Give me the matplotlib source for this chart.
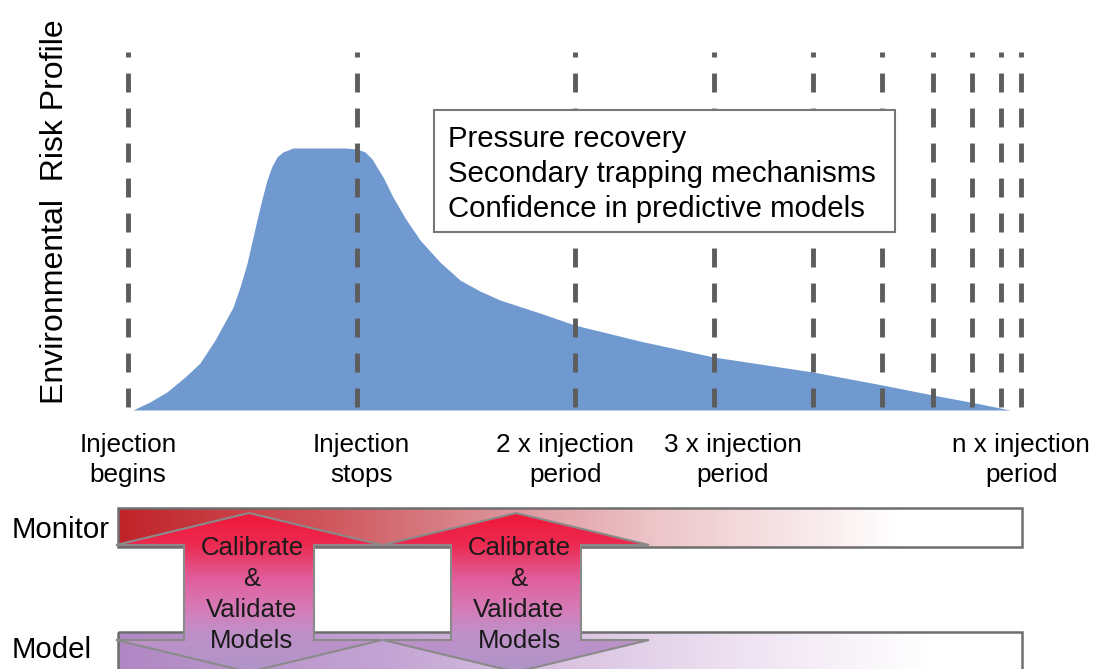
import numpy as np
import matplotlib.pyplot as plt
from matplotlib.patches import Polygon, Rectangle
from matplotlib.colors import LinearSegmentedColormap

plt.rcParams['font.family'] = ['Liberation Sans', 'DejaVu Sans']

W, H = 1099, 669

# schematic time axis, in units of the injection period (spacing as drawn)
marker_times = [0.0, 1.0, 1.952, 2.559, 2.991, 3.293, 3.515, 3.686, 3.812, 3.900]

label_times = [0.0, 1.02, 1.91, 2.64, 3.90]
label_top = ["Injection", "Injection", "2 x injection", "3 x injection", "n x injection"]
label_bottom = ["begins", "stops", "period", "period", "period"]

# environmental risk profile, peak = 1
risk_t = [0.022, 0.096, 0.170, 0.249, 0.314, 0.380, 0.459, 0.489, 0.520, 0.541,
          0.563, 0.585, 0.607, 0.629, 0.651, 0.677, 0.721, 0.838, 0.948, 1.0,
          1.035, 1.066, 1.087, 1.114, 1.157, 1.210, 1.275, 1.362, 1.450, 1.537,
          1.624, 1.799, 1.952, 2.236, 2.559, 2.991, 3.297, 3.515, 3.699, 3.852]
risk = [0.0, 0.031, 0.069, 0.126, 0.179, 0.267, 0.393, 0.469, 0.561, 0.641,
        0.725, 0.805, 0.878, 0.931, 0.966, 0.985, 1.0, 1.0, 1.0, 0.996,
        0.985, 0.958, 0.927, 0.889, 0.813, 0.733, 0.649, 0.565, 0.496, 0.454,
        0.420, 0.370, 0.324, 0.263, 0.202, 0.145, 0.095, 0.057, 0.027, 0.0]

box_lines = ["Pressure recovery", "Secondary trapping mechanisms",
             "Confidence in predictive models"]
arrow_lines = ["Calibrate", "&", "Validate", "Models"]


# pixel <-> data helpers for the top panel
def T(px):
    return (px - 128) / 229.0


def Y(py):
    return (410 - py) / 262.0


fig = plt.figure(figsize=(W / 100, H / 100), dpi=100)
fig.patch.set_facecolor('white')

ax = fig.add_axes([100 / W, (H - 420) / H, 960 / W, 390 / H])
ax.set_xlim(T(100), T(1060))
ax.set_ylim(Y(420), Y(30))
ax.axis('off')

ax.fill_between(risk_t, 0, risk, color='#7099d0', lw=0, zorder=1)
ax.vlines(marker_times, Y(407), Y(52), colors='#5c5c5c', lw=3.5,
          linestyles=[(0, (3.9, 3.3))], zorder=2)

for t, a, b in zip(label_times, label_top, label_bottom):
    ax.text(t, Y(452), a, ha='center', va='baseline', fontsize=18.8, clip_on=False)
    ax.text(t, Y(482), b, ha='center', va='baseline', fontsize=18.8, clip_on=False)

# overlay in pixel units for the diagram parts
ov = fig.add_axes([0, 0, 1, 1])
ov.set_xlim(0, W)
ov.set_ylim(H, 0)
ov.axis('off')
ov.patch.set_alpha(0)

ov.text(55, 212, "Environmental  Risk Profile", rotation=90, ha='center',
        va='center', fontsize=23)

# text box
ov.add_patch(Rectangle((434, 110), 461, 122, facecolor='white',
                       edgecolor='#777777', lw=1.5, zorder=3))
for line, yb in zip(box_lines, [147, 182, 217]):
    ov.text(448, yb, line, ha='left', va='baseline', fontsize=21.2, zorder=4)

# Monitor / Model bars with gradients
mon_cmap = LinearSegmentedColormap.from_list('mon', [
    (0.0, '#c0232a'), (0.235, '#d0585e'), (0.42, '#dc9098'),
    (0.59, '#ecc4c8'), (0.75, '#f7e6e8'), (0.865, '#ffffff'), (1.0, '#ffffff')])
mod_cmap = LinearSegmentedColormap.from_list('mod', [
    (0.0, '#b088c4'), (0.3, '#c4a4d4'), (0.5, '#dac4e2'),
    (0.7, '#efe4f2'), (0.9, '#ffffff'), (1.0, '#ffffff')])
arr_cmap = LinearSegmentedColormap.from_list('arr', [
    (0.0, '#f0183a'), (0.2, '#ec2a50'), (0.42, '#e0609e'),
    (0.61, '#d47cb8'), (0.75, '#c090c8'), (1.0, '#b094c8')])

grad_h = np.linspace(0, 1, 256).reshape(1, -1)
grad_v = np.linspace(0, 1, 256).reshape(-1, 1)

for (y0, y1, cmap) in [(508, 547, mon_cmap), (632, 700, mod_cmap)]:
    rect = Rectangle((118, y0), 904, y1 - y0, facecolor='none',
                     edgecolor='#6e6e6e', lw=1.8, zorder=2)
    im = ov.imshow(grad_h, cmap=cmap, extent=(118, 1022, y1, y0),
                   aspect='auto', zorder=1)
    ov.add_patch(rect)
    im.set_clip_path(rect)

# double arrows
for cx in [249, 516]:
    pts = [(cx, 513), (cx + 133, 545), (cx + 65, 545), (cx + 65, 640),
           (cx + 133, 640), (cx, 672), (cx - 133, 640), (cx - 65, 640),
           (cx - 65, 545), (cx - 133, 545)]
    poly = Polygon(pts, closed=True, facecolor='none', edgecolor='#8a8a8a',
                   lw=1.5, zorder=4)
    im = ov.imshow(grad_v, cmap=arr_cmap, extent=(cx - 135, cx + 135, 672, 513),
                   origin='upper', aspect='auto', zorder=3)
    ov.add_patch(poly)
    im.set_clip_path(poly)
    for line, yb in zip(arrow_lines, [555, 586, 617, 648]):
        ov.text(cx + 3, yb, line, ha='center', va='baseline', fontsize=18.5,
                color='#1a1a1a', zorder=5)

ov.text(12, 538, "Monitor", ha='left', va='baseline', fontsize=21.2)
ov.text(12, 658, "Model", ha='left', va='baseline', fontsize=21.2)

ov.set_xlim(0, W)
ov.set_ylim(H, 0)

fig.savefig('out.png', dpi=100, facecolor='white')
